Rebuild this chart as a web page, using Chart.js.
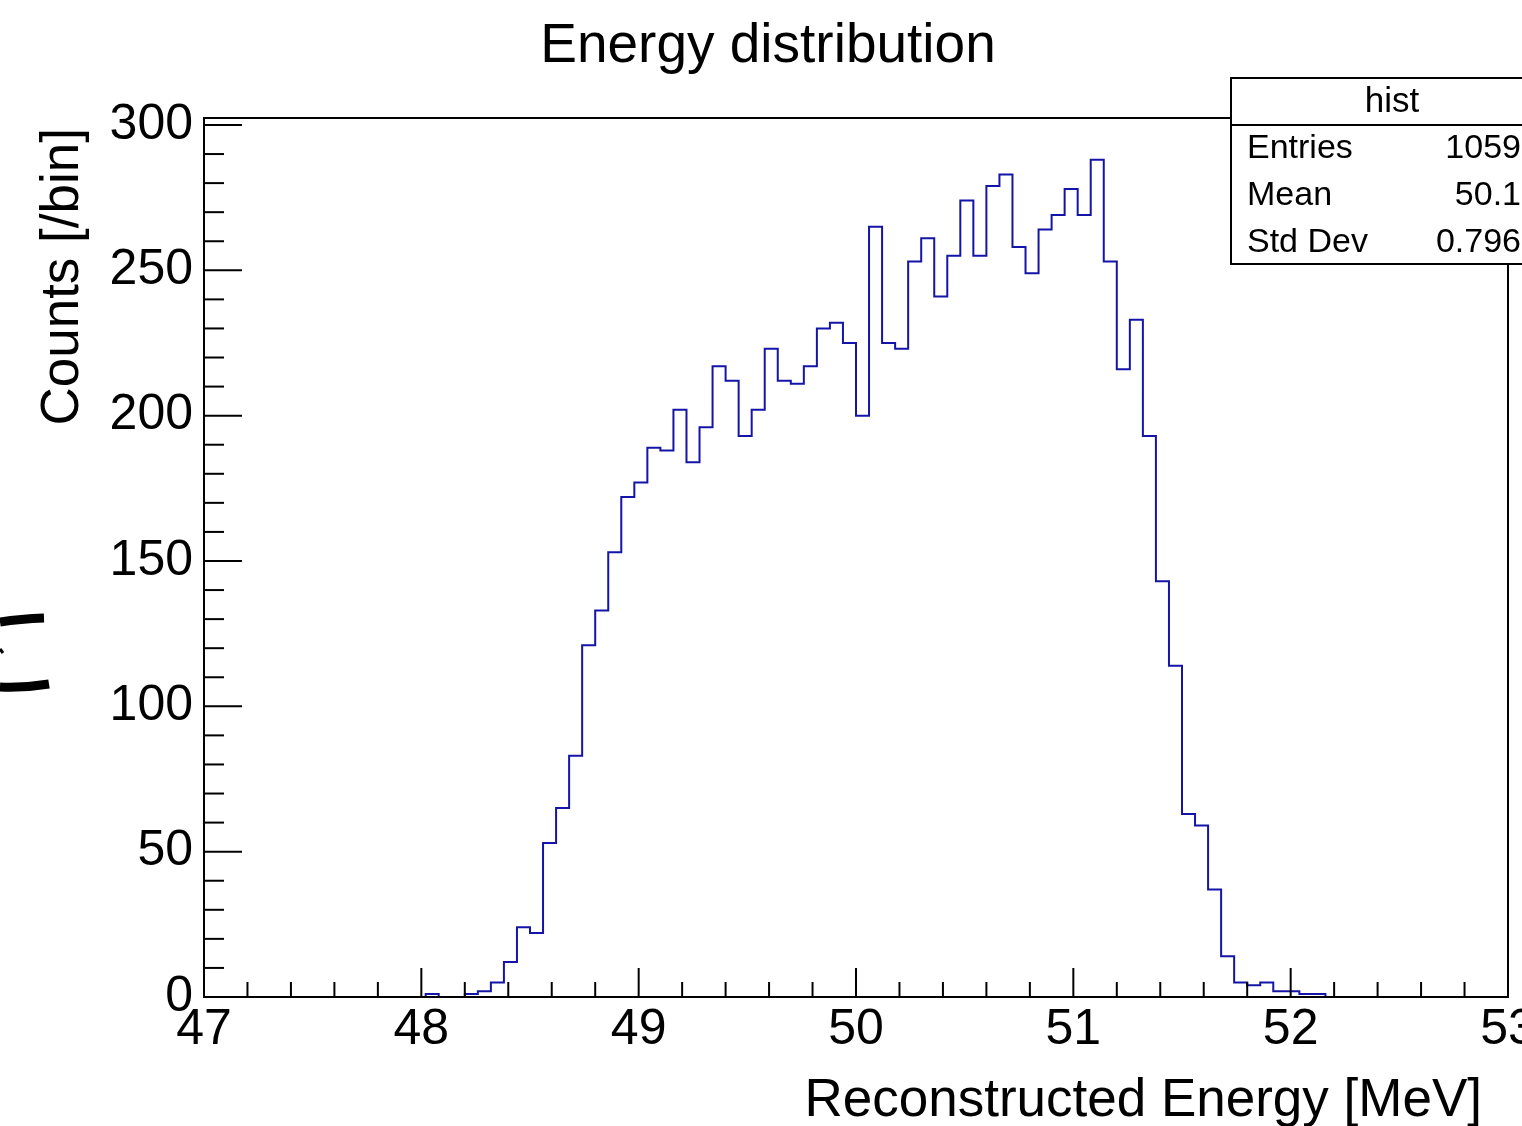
<!DOCTYPE html>
<html>
<head>
<meta charset="utf-8">
<title>Energy distribution</title>
<script src="https://cdn.jsdelivr.net/npm/chart.js@4.4.1/dist/chart.umd.min.js"></script>
<style>
  html, body { margin: 0; padding: 0; background: #fff; }
  #wrap { width: 1522px; height: 1126px; }
</style>
</head>
<body>
<div id="wrap"><canvas id="histChart" width="1522" height="1126"></canvas></div>
<script>
// binning: 100 bins between 47 and 53 MeV
const xMin = 47;
const xMax = 53;
const binWidth = 0.06;
const yMax = 302.4;

// counts per bin
const counts = [
  0, 0, 0, 0, 0, 0, 0, 0, 0, 0,
  0, 0, 0, 0, 0, 0, 0, 1, 0, 0,
  1, 2, 5, 12, 24, 22, 53, 65, 83, 121,
  133, 153, 172, 177, 189, 188, 202, 184, 196, 217,
  212, 193, 202, 223, 212, 211, 217, 230, 232, 225,
  200, 265, 225, 223, 253, 261, 241, 255, 274, 255,
  279, 283, 258, 249, 264, 269, 278, 269, 288, 253,
  216, 233, 193, 143, 114, 63, 59, 37, 14, 5,
  4, 5, 2, 2, 1, 1, 0, 0, 0, 0,
  0, 0, 0, 0, 0, 0, 0, 0, 0, 0
];

const xMajorTicks = [47, 48, 49, 50, 51, 52, 53];
const yMajorTicks = [0, 50, 100, 150, 200, 250, 300];
const xTickStep = 0.2;
const yTickStep = 10;

const statsTitle = 'hist';
const statsLabels = ['Entries', 'Mean', 'Std Dev'];
const statsValues = ['1059', '50.1', '0.796'];

const FONT = '"Liberation Sans", Arial, Helvetica, sans-serif';

// lower bin edges -> points for a stepped outline
const binEdges = counts.map((_, i) => +(xMin + i * binWidth).toFixed(2));
const histPoints = counts.map((c, i) => ({ x: binEdges[i], y: c }));
histPoints.push({ x: xMax, y: 0 });

// minor + major tick positions (every 0.2 MeV, every 10 counts)
const xTickValues = Array.from({ length: 31 }, (_, i) => +(xMin + i * xTickStep).toFixed(1));
const yTickValues = Array.from({ length: 31 }, (_, i) => i * yTickStep);

const isMajor = (v, list) => list.some(m => Math.abs(m - v) < 1e-6);

// ROOT-like frame, inward ticks, titles and stats box
const rootStyle = {
  id: 'rootStyle',
  afterDraw(chart) {
    const { ctx, chartArea: a, scales: { x, y } } = chart;
    ctx.save();
    ctx.strokeStyle = '#000';
    ctx.lineWidth = 2;
    ctx.strokeRect(a.left, a.top, a.right - a.left, a.bottom - a.top);

    x.ticks.forEach(t => {
      const px = x.getPixelForValue(t.value);
      const len = isMajor(t.value, xMajorTicks) ? 29 : 15;
      ctx.beginPath();
      ctx.moveTo(px, a.bottom);
      ctx.lineTo(px, a.bottom - len);
      ctx.stroke();
    });
    y.ticks.forEach(t => {
      const py = y.getPixelForValue(t.value);
      const len = isMajor(t.value, yMajorTicks) ? 38 : 20;
      ctx.beginPath();
      ctx.moveTo(a.left, py);
      ctx.lineTo(a.left + len, py);
      ctx.stroke();
    });

    ctx.fillStyle = '#000';
    // main title
    ctx.font = '55px ' + FONT;
    ctx.textAlign = 'center';
    ctx.textBaseline = 'alphabetic';
    ctx.fillText('Energy distribution', 768, 62);

    // x title
    ctx.font = '53px ' + FONT;
    ctx.textAlign = 'right';
    ctx.fillText('Reconstructed Energy [MeV]', 1482, 1116);

    // y title
    ctx.save();
    ctx.translate(78, 128);
    ctx.rotate(-Math.PI / 2);
    ctx.textAlign = 'right';
    ctx.fillText('Counts [/bin]', 0, 0);
    ctx.restore();

    // stats box
    const bx = 1231, by = 78, bw = 330, bh = 186, hdr = 125;
    ctx.fillStyle = '#fff';
    ctx.fillRect(bx, by, bw, bh);
    ctx.strokeRect(bx, by, bw, bh);
    ctx.beginPath();
    ctx.moveTo(bx, hdr);
    ctx.lineTo(bx + bw, hdr);
    ctx.stroke();
    ctx.fillStyle = '#000';
    ctx.font = '35px ' + FONT;
    ctx.textBaseline = 'middle';
    ctx.textAlign = 'center';
    ctx.fillText(statsTitle, 1392, 102);
    ctx.font = '34px ' + FONT;
    const rowsY = [149, 196, 243];
    statsLabels.forEach((lab, i) => {
      ctx.textAlign = 'left';
      ctx.fillText(lab, 1247, rowsY[i]);
      ctx.textAlign = 'right';
      ctx.fillText(statsValues[i], 1521, rowsY[i]);
    });

    // clipped glyph fragment at the left edge
    ctx.lineWidth = 9;
    ctx.lineCap = 'butt';
    ctx.beginPath();
    ctx.moveTo(0, 622);
    ctx.quadraticCurveTo(20, 619, 44, 618);
    ctx.stroke();
    ctx.beginPath();
    ctx.moveTo(0, 687);
    ctx.quadraticCurveTo(25, 688, 49, 684);
    ctx.stroke();
    ctx.lineWidth = 3;
    ctx.beginPath();
    ctx.moveTo(0, 649);
    ctx.lineTo(3, 653);
    ctx.stroke();
    ctx.restore();
  }
};

new Chart(document.getElementById('histChart'), {
  type: 'line',
  data: {
    datasets: [{
      data: histPoints,
      stepped: 'before',
      borderColor: '#1414a8',
      borderWidth: 2,
      pointRadius: 0,
      fill: false,
      tension: 0
    }]
  },
  options: {
    responsive: false,
    animation: false,
    devicePixelRatio: 1,
    layout: { padding: { top: 118, right: 14, left: 0, bottom: 0 } },
    plugins: { legend: { display: false }, tooltip: { enabled: false }, title: { display: false } },
    scales: {
      x: {
        type: 'linear',
        min: xMin,
        max: xMax,
        grid: { display: false, drawTicks: false },
        border: { display: false },
        afterBuildTicks: s => { s.ticks = xTickValues.map(v => ({ value: v })); },
        afterFit: s => { s.height = 129; s.paddingLeft = 0; s.paddingRight = 0; },
        ticks: {
          autoSkip: false,
          maxRotation: 0,
          padding: 3,
          color: '#000',
          font: { family: FONT, size: 50 },
          callback: v => isMajor(v, xMajorTicks) ? String(Math.round(v)) : ''
        }
      },
      y: {
        type: 'linear',
        min: 0,
        max: yMax,
        grid: { display: false, drawTicks: false },
        border: { display: false },
        afterBuildTicks: s => { s.ticks = yTickValues.map(v => ({ value: v })); },
        afterFit: s => { s.width = 204; s.paddingTop = 0; s.paddingBottom = 0; },
        ticks: {
          autoSkip: false,
          padding: 11,
          color: '#000',
          font: { family: FONT, size: 50 },
          callback: v => isMajor(v, yMajorTicks) ? String(Math.round(v)) : ''
        }
      }
    }
  },
  plugins: [rootStyle]
});
</script>
</body>
</html>
